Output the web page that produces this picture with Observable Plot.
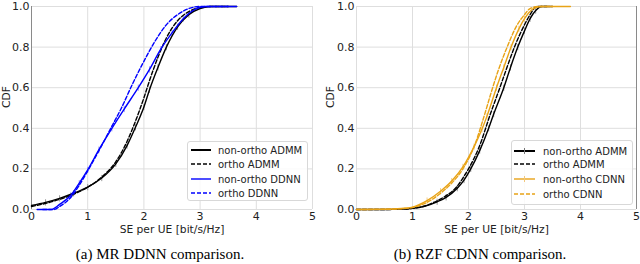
<!DOCTYPE html>
<html><head><meta charset="utf-8">
<script src="https://cdn.jsdelivr.net/npm/d3@7"></script>
<script src="https://cdn.jsdelivr.net/npm/@observablehq/plot@0.6"></script>
<style>
body{margin:0;background:#fff;width:640px;height:264px;overflow:hidden;position:relative;font-family:"DejaVu Sans",sans-serif}
.panel{position:absolute;top:0;width:320px;height:264px}
.cap{position:absolute;top:245px;left:0;width:320px;text-align:center;font-family:"Liberation Serif",serif;font-size:15px;color:#000;line-height:18px}
.leg{position:absolute;left:0;top:0;overflow:visible}
svg{overflow:visible}
</style></head><body>
<div id="a" class="panel" style="left:0"></div>
<div id="b" class="panel" style="left:320px"></div>
<script>
// ---------- data ----------
const xTicks = [0, 1, 2, 3, 4, 5];
const yTicks = [0, 0.2, 0.4, 0.6, 0.8, 1.0];
const seriesNames = ["non-ortho ADMM", "ortho ADMM", "non-ortho DDNN", "ortho DDNN"];
const seriesNamesB = ["non-ortho ADMM", "ortho ADMM", "non-ortho CDNN", "ortho CDNN"];

// (a) MR DDNN comparison
const aNonOrthoAdmmX = [0, 0.25, 0.5, 0.75, 1.0, 1.25, 1.5, 1.7, 1.85, 2.0, 2.1, 2.25, 2.4, 2.6, 2.8, 3.0, 3.2, 3.65];
const aNonOrthoAdmmY = [0.02, 0.035, 0.055, 0.08, 0.11, 0.155, 0.225, 0.315, 0.405, 0.505, 0.59, 0.7, 0.8, 0.9, 0.96, 0.99, 1.0, 1.0];
const aOrthoAdmmX = [0, 0.25, 0.5, 0.75, 1.0, 1.25, 1.5, 1.7, 1.85, 2.0, 2.1, 2.25, 2.4, 2.6, 2.8, 3.0, 3.2, 3.5];
const aOrthoAdmmY = [0.015, 0.03, 0.05, 0.075, 0.11, 0.16, 0.235, 0.335, 0.435, 0.55, 0.635, 0.75, 0.845, 0.93, 0.975, 0.995, 1.0, 1.0];
const aNonOrthoDdnnX = [0.1, 0.35, 0.5, 0.7, 0.85, 1.0, 1.2, 1.43, 1.65, 1.9, 2.1, 2.3, 2.5, 2.7, 2.9, 3.1, 3.65];
const aNonOrthoDdnnY = [0, 0, 0.025, 0.07, 0.13, 0.195, 0.295, 0.4, 0.495, 0.6, 0.69, 0.79, 0.87, 0.94, 0.985, 1.0, 1.0];
const aOrthoDdnnX = [0.2, 0.4, 0.5, 0.7, 0.85, 1.0, 1.2, 1.43, 1.6, 1.8, 2.0, 2.2, 2.4, 2.6, 2.8, 3.0, 3.5];
const aOrthoDdnnY = [0, 0, 0.015, 0.06, 0.12, 0.19, 0.29, 0.41, 0.5, 0.62, 0.73, 0.83, 0.91, 0.96, 0.99, 1.0, 1.0];

// (b) RZF CDNN comparison
const bNonOrthoAdmmX = [0, 0.5, 0.8, 1.0, 1.2, 1.44, 1.6, 1.8, 1.92, 2.04, 2.2, 2.36, 2.45, 2.63, 2.75, 2.88, 3.0, 3.1, 3.2, 3.3, 3.5];
const bNonOrthoAdmmY = [0, 0, 0.002, 0.006, 0.015, 0.038, 0.06, 0.105, 0.145, 0.2, 0.29, 0.4, 0.47, 0.6, 0.7, 0.8, 0.88, 0.94, 0.98, 1.0, 1.0];
const bOrthoAdmmX = [0, 0.5, 0.8, 1.0, 1.2, 1.44, 1.6, 1.8, 1.9, 2.0, 2.2, 2.39, 2.56, 2.7, 2.82, 3.0, 3.1, 3.22, 3.4];
const bOrthoAdmmY = [0, 0, 0.002, 0.006, 0.016, 0.043, 0.068, 0.115, 0.155, 0.2, 0.315, 0.47, 0.6, 0.71, 0.8, 0.91, 0.96, 1.0, 1.0];
const bNonOrthoCdnnX = [0, 0.5, 0.8, 1.0, 1.26, 1.5, 1.7, 1.9, 2.1, 2.24, 2.33, 2.5, 2.63, 2.76, 2.9, 3.0, 3.16, 3.3, 3.82];
const bNonOrthoCdnnY = [0, 0.001, 0.005, 0.012, 0.044, 0.09, 0.14, 0.21, 0.31, 0.395, 0.46, 0.6, 0.7, 0.8, 0.89, 0.94, 0.99, 1.0, 1.0];
const bOrthoCdnnX = [0, 0.5, 0.8, 1.0, 1.26, 1.5, 1.7, 1.9, 2.1, 2.29, 2.42, 2.55, 2.69, 2.85, 3.0, 3.1, 3.25, 3.5];
const bOrthoCdnnY = [0, 0.001, 0.004, 0.01, 0.035, 0.08, 0.13, 0.2, 0.31, 0.47, 0.59, 0.7, 0.8, 0.9, 0.96, 0.99, 1.0, 1.0];

const BLUE = "#0000ff", ORANGE = "#e8a317", BLACK = "#000";
const pts = (xs, ys) => xs.map((x, i) => ({x, y: ys[i]}));
// vertical bar symbol for the small error ticks on solid curves
const vbar = {draw(ctx, size) { const r = Math.sqrt(size) / 2; ctx.moveTo(0, -r); ctx.lineTo(0, r); }};

function panel(opts) {
  const {ml, mr, series, spineX} = opts;
  const marks = [
    Plot.ruleX(xTicks, {stroke: "#dedede", strokeWidth: 1}),
    Plot.ruleY(yTicks, {stroke: "#dedede", strokeWidth: 1}),
    Plot.ruleX([spineX], {stroke: "#8a8a8a", strokeWidth: 1})
  ];
  for (const s of series) {
    if (s.err) {
      marks.push(Plot.dot(pts(s.x, s.y).filter(d => d.y > 0.03 && d.y < 0.985),
        {x: "x", y: "y", symbol: vbar, r: 3.5, stroke: s.err, strokeWidth: 1, fill: "none"}));
    }
  }
  for (const s of series) {
    marks.push(Plot.line(pts(s.x, s.y), {x: "x", y: "y", stroke: s.color, strokeWidth: 1.4,
      strokeDasharray: s.dash ? "4,2" : null, curve: "monotone-x"}));
  }
  marks.push(Plot.text(["SE per UE [bit/s/Hz]"], {frameAnchor: "bottom", dy: 23, fontSize: 10.7, fill: "#222"}));
  marks.push(Plot.text(["CDF"], {frameAnchor: "left", dx: opts.cdfDx, rotate: -90, fontSize: 10.7, fill: "#222"}));
  return Plot.plot({
    width: 320, height: 240,
    marginLeft: ml, marginRight: mr, marginTop: 6, marginBottom: 31,
    x: {domain: [0, 5], ticks: xTicks, tickSize: 0, tickPadding: 3, label: null, tickFormat: d => String(d)},
    y: {domain: [0, 1], ticks: yTicks, tickSize: 0, tickPadding: 2, label: null, tickFormat: d3.format(".1f")},
    style: {fontFamily: "DejaVu Sans", fontSize: "11px", color: "#222", background: "transparent", overflow: "visible"},
    marks
  });
}

function addLegend(container, L, names, colors, dashes, errTick) {
  const svg = d3.select(container).append("svg").attr("class", "leg")
    .attr("width", 320).attr("height", 240);
  svg.append("rect").attr("x", L.x + 0.5).attr("y", L.y + 0.5).attr("width", L.w).attr("height", L.h)
    .attr("rx", 2.5).attr("fill", "#fff").attr("fill-opacity", 0.85).attr("stroke", "#d8d8d8");
  names.forEach((n, i) => {
    const yy = L.y + L.rows[i];
    svg.append("line").attr("x1", L.lx1).attr("x2", L.lx2).attr("y1", yy).attr("y2", yy)
      .attr("stroke", colors[i]).attr("stroke-width", i === 0 ? 2 : 1.4)
      .attr("stroke-dasharray", dashes[i] ? "4,2" : null);
    if (errTick && !dashes[i]) {
      const mx = (L.lx1 + L.lx2) / 2;
      svg.append("line").attr("x1", mx).attr("x2", mx).attr("y1", yy - 3).attr("y2", yy + 3)
        .attr("stroke", i === 0 ? "#777" : "#f2c77a").attr("stroke-width", 1);
    }
    svg.append("text").attr("x", L.tx).attr("y", yy).attr("dy", "0.35em")
      .attr("font-family", "DejaVu Sans").attr("font-size", 10).attr("fill", "#222").text(n);
  });
}

const A = document.getElementById("a");
A.appendChild(panel({
  ml: 31, mr: 8, spineX: 0, cdfDx: -25,
  series: [
    {x: aNonOrthoAdmmX, y: aNonOrthoAdmmY, color: BLACK, dash: false, err: "#9a9a9a"},
    {x: aOrthoAdmmX, y: aOrthoAdmmY, color: BLACK, dash: true},
    {x: aNonOrthoDdnnX, y: aNonOrthoDdnnY, color: BLUE, dash: false, err: "#9c9cf5"},
    {x: aOrthoDdnnX, y: aOrthoDdnnY, color: BLUE, dash: true}
  ]
}));
addLegend(A, {x: 187, y: 141, w: 120, h: 59, rows: [9, 23, 38, 52], lx1: 191, lx2: 211, tx: 218},
  seriesNames, [BLACK, BLACK, BLUE, BLUE], [false, true, false, true], false);
const capA = document.createElement("div"); capA.className = "cap"; capA.textContent = "(a) MR DDNN comparison.";
A.appendChild(capA);

const B = document.getElementById("b");
B.appendChild(panel({
  ml: 36, mr: 4, spineX: 5, cdfDx: -26,
  series: [
    {x: bNonOrthoAdmmX, y: bNonOrthoAdmmY, color: BLACK, dash: false, err: "#9a9a9a"},
    {x: bOrthoAdmmX, y: bOrthoAdmmY, color: BLACK, dash: true},
    {x: bNonOrthoCdnnX, y: bNonOrthoCdnnY, color: ORANGE, dash: false, err: "#f2cf8e"},
    {x: bOrthoCdnnX, y: bOrthoCdnnY, color: ORANGE, dash: true}
  ]
}));
addLegend(B, {x: 191, y: 140, w: 121, h: 64, rows: [11, 24, 39, 54], lx1: 194, lx2: 215, tx: 223},
  seriesNamesB, [BLACK, BLACK, ORANGE, ORANGE], [false, true, false, true], true);
const capB = document.createElement("div"); capB.className = "cap"; capB.textContent = "(b) RZF CDNN comparison.";
B.appendChild(capB);
</script></body></html>
